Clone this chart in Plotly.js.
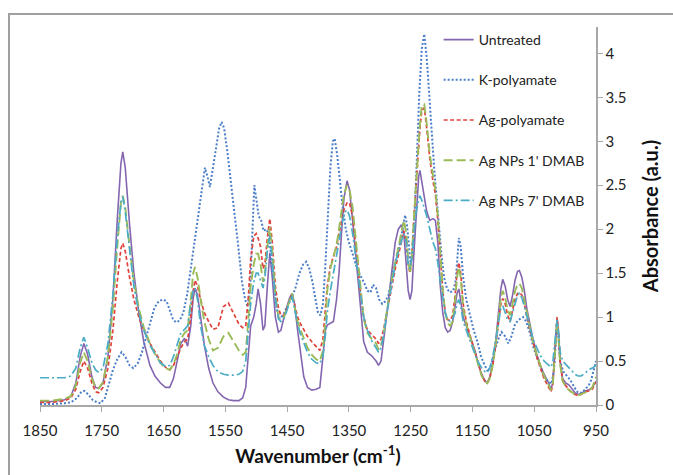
<!DOCTYPE html>
<html>
<head>
<meta charset="utf-8">
<script src="https://cdn.plot.ly/plotly-3.0.1.min.js"></script>
<style>
  html, body { margin:0; padding:0; background:#fff; overflow:hidden; }
  #chart { position:absolute; left:0; top:0; width:673px; height:475px; }
  #frame { position:absolute; left:8px; top:13px; width:720px; height:520px;
           border:2px solid #a0a0a0; pointer-events:none; }
</style>
</head>
<body>
<div id="chart"></div>
<div id="frame"></div>
<script>
// Wavenumber grid (cm-1) shared by four spectra
const wavenumber = [
  1850,1830,1810,1800,1792,1785,1779,1773,1766,1760,
  1755,1748,1740,1732,1725,1719,1716,1712,1705,1698,
  1690,1682,1672,1664,1655,1647,1640,1634,1628,1622,
  1616,1611,1606,1602,1599,1595,1590,1584,1577,1570,
  1562,1553,1545,1537,1528,1522,1517,1513,1509,1504,
  1500,1497,1493,1489,1486,1482,1478,1474,1469,1464,
  1460,1455,1450,1446,1442,1438,1433,1428,1423,1417,
  1410,1403,1397,1392,1388,1385,1380,1375,1370,1366,
  1362,1358,1353,1349,1344,1339,1334,1330,1326,1320,
  1313,1306,1302,1298,1294,1290,1285,1280,1275,1270,
  1265,1261,1257,1254,1251,1248,1245,1241,1237,1235,
  1232,1228,1224,1219,1214,1210,1206,1202,1198,1194,
  1190,1186,1182,1178,1175,1172,1169,1165,1160,1155,
  1150,1145,1140,1135,1130,1126,1122,1117,1112,1108,
  1104,1101,1097,1093,1089,1085,1081,1077,1074,1070,
  1066,1062,1057,1052,1046,1040,1034,1028,1023,1020,
  1017,1015,1013,1011,1008,1004,999,994,989,984,
  979,974,968,962,956,950
];

const untreated = [
  0.04,0.04,0.06,0.10,0.25,0.55,0.70,0.58,0.32,0.20,
  0.19,0.25,0.55,1.20,2.10,2.75,2.88,2.70,2.05,1.50,
  1.05,0.72,0.45,0.33,0.25,0.20,0.20,0.30,0.50,0.70,
  0.76,0.67,0.90,1.22,1.33,1.25,1.00,0.68,0.42,0.25,
  0.15,0.09,0.06,0.05,0.05,0.08,0.20,0.55,0.90,1.00,
  1.15,1.32,1.15,0.85,0.90,1.35,1.73,1.45,1.00,0.83,
  0.85,1.00,1.12,1.22,1.27,1.15,0.85,0.55,0.32,0.20,
  0.17,0.18,0.20,0.55,0.85,0.91,0.93,0.95,1.20,1.50,
  1.95,2.35,2.55,2.45,2.10,1.70,1.30,0.95,0.72,0.60,
  0.56,0.50,0.45,0.50,0.70,0.95,1.25,1.55,1.85,2.00,
  2.05,1.95,1.60,1.30,1.20,1.30,1.70,2.20,2.60,2.67,
  2.55,2.35,2.20,2.10,2.12,2.10,1.85,1.35,1.05,0.88,
  0.83,0.85,0.95,1.12,1.27,1.32,1.20,1.00,0.90,0.80,
  0.72,0.60,0.45,0.35,0.28,0.25,0.32,0.48,0.75,1.05,
  1.32,1.43,1.35,1.20,1.12,1.25,1.42,1.52,1.53,1.45,
  1.30,1.10,0.92,0.75,0.58,0.45,0.35,0.27,0.18,0.25,
  0.55,0.85,0.98,0.85,0.50,0.30,0.25,0.23,0.18,0.14,
  0.12,0.13,0.16,0.17,0.20,0.27
];

const agPolyamate = [
  0.03,0.03,0.05,0.08,0.18,0.38,0.50,0.42,0.25,0.15,
  0.14,0.20,0.42,0.85,1.40,1.78,1.84,1.75,1.45,1.20,
  1.00,0.85,0.70,0.60,0.50,0.43,0.40,0.45,0.55,0.65,
  0.72,0.75,1.00,1.30,1.42,1.35,1.20,1.05,0.95,0.86,
  0.88,1.12,1.16,1.05,0.92,0.88,0.90,1.20,1.65,1.92,
  1.95,1.90,1.80,1.55,1.60,1.90,2.12,1.85,1.35,1.10,
  1.02,1.02,1.10,1.20,1.25,1.15,1.00,0.92,0.85,0.78,
  0.72,0.66,0.62,0.75,1.05,1.35,1.58,1.70,1.80,1.95,
  2.10,2.22,2.30,2.30,2.15,1.85,1.50,1.20,1.00,0.85,
  0.80,0.75,0.70,0.75,0.85,1.00,1.20,1.40,1.55,1.70,
  1.88,1.98,1.85,1.60,1.50,1.70,2.10,2.55,2.95,3.15,
  3.35,3.38,3.15,2.80,2.55,2.40,2.10,1.70,1.30,1.05,
  0.97,0.96,1.02,1.25,1.50,1.62,1.50,1.15,0.95,0.82,
  0.70,0.58,0.45,0.34,0.27,0.25,0.30,0.45,0.70,0.95,
  1.15,1.21,1.15,1.02,0.95,1.08,1.20,1.27,1.28,1.25,
  1.15,1.00,0.85,0.70,0.55,0.42,0.30,0.22,0.15,0.22,
  0.55,0.88,1.00,0.85,0.48,0.28,0.22,0.18,0.14,0.12,
  0.11,0.12,0.15,0.16,0.18,0.26
];

const agNps1 = [
  0.05,0.05,0.07,0.10,0.22,0.48,0.60,0.50,0.30,0.20,
  0.19,0.26,0.55,1.10,1.80,2.30,2.38,2.25,1.80,1.40,
  1.10,0.88,0.70,0.58,0.48,0.42,0.40,0.46,0.58,0.75,
  0.82,0.85,1.20,1.50,1.57,1.45,1.20,0.95,0.75,0.62,
  0.65,0.78,0.82,0.72,0.62,0.57,0.60,0.95,1.35,1.60,
  1.72,1.72,1.60,1.40,1.50,1.80,2.02,1.75,1.25,1.00,
  0.97,1.00,1.10,1.20,1.27,1.12,0.95,0.85,0.75,0.65,
  0.57,0.52,0.50,0.62,0.95,1.30,1.55,1.68,1.82,2.00,
  2.20,2.40,2.50,2.45,2.25,1.90,1.55,1.20,0.98,0.82,
  0.75,0.70,0.63,0.68,0.80,1.00,1.25,1.45,1.62,1.78,
  1.95,2.10,1.95,1.65,1.50,1.70,2.10,2.55,3.00,3.20,
  3.40,3.42,3.20,2.85,2.62,2.45,2.15,1.70,1.30,1.05,
  0.93,0.90,0.95,1.20,1.45,1.57,1.45,1.10,0.92,0.80,
  0.68,0.56,0.44,0.33,0.27,0.25,0.30,0.46,0.72,1.00,
  1.22,1.30,1.22,1.08,1.02,1.15,1.30,1.37,1.38,1.33,
  1.20,1.05,0.88,0.72,0.57,0.44,0.33,0.25,0.17,0.23,
  0.52,0.82,0.94,0.80,0.46,0.27,0.21,0.17,0.14,0.12,
  0.11,0.12,0.14,0.16,0.20,0.32
];

const agNps7 = [
  0.31,0.31,0.31,0.33,0.42,0.65,0.77,0.65,0.48,0.40,
  0.37,0.42,0.70,1.25,1.90,2.30,2.37,2.20,1.75,1.35,
  1.05,0.85,0.68,0.58,0.48,0.44,0.45,0.55,0.70,0.82,
  0.86,0.90,1.15,1.30,1.33,1.20,0.90,0.68,0.55,0.45,
  0.38,0.35,0.34,0.34,0.35,0.38,0.50,0.80,1.15,1.40,
  1.50,1.50,1.42,1.33,1.45,1.75,1.92,1.65,1.20,0.98,
  0.95,0.98,1.08,1.18,1.24,1.10,0.92,0.80,0.70,0.60,
  0.52,0.48,0.47,0.55,0.80,1.05,1.30,1.50,1.70,1.90,
  2.05,2.18,2.22,2.15,1.95,1.70,1.45,1.20,1.00,0.85,
  0.73,0.65,0.60,0.65,0.78,0.98,1.20,1.40,1.60,1.75,
  1.85,1.95,1.85,1.60,1.55,1.70,1.95,2.20,2.35,2.38,
  2.33,2.25,2.15,2.00,1.85,1.78,1.62,1.40,1.20,1.05,
  0.97,0.95,0.98,1.05,1.15,1.20,1.12,0.95,0.85,0.75,
  0.65,0.56,0.48,0.42,0.38,0.37,0.42,0.55,0.75,0.95,
  1.10,1.13,1.05,0.97,0.95,1.05,1.18,1.25,1.27,1.22,
  1.12,1.00,0.88,0.75,0.65,0.56,0.50,0.46,0.43,0.48,
  0.72,0.90,0.97,0.85,0.60,0.50,0.46,0.42,0.38,0.35,
  0.33,0.33,0.36,0.40,0.42,0.45
];

// K-polyamate has its own wavenumber grid
const kWavenumber = [
  1850,1830,1810,1800,1790,1783,1778,1772,1765,1758,
  1752,1745,1738,1732,1725,1718,1712,1705,1699,1692,
  1685,1678,1672,1665,1658,1651,1645,1640,1635,1630,
  1624,1618,1612,1605,1598,1592,1587,1583,1579,1575,
  1570,1565,1560,1556,1552,1547,1541,1535,1529,1523,
  1518,1514,1510,1506,1503,1500,1496,1492,1488,1484,
  1480,1476,1472,1467,1462,1456,1450,1444,1437,1430,
  1424,1419,1414,1409,1404,1400,1396,1392,1388,1384,
  1380,1376,1373,1369,1365,1360,1355,1350,1344,1338,
  1332,1326,1320,1315,1311,1306,1301,1296,1291,1286,
  1281,1276,1271,1266,1262,1259,1256,1253,1250,1247,
  1244,1240,1236,1232,1228,1224,1220,1216,1212,1208,
  1204,1200,1196,1191,1186,1181,1177,1174,1172,1169,
  1165,1160,1154,1148,1142,1136,1130,1125,1120,1114,
  1108,1103,1097,1092,1087,1081,1075,1068,1063,1057,
  1051,1046,1040,1034,1028,1022,1018,1015,1013,1011,
  1008,1003,997,991,985,979,973,967,962,958,
  954,950
];
const kPolyamate = [
  0.01,0.01,0.02,0.03,0.08,0.15,0.16,0.12,0.06,0.03,
  0.02,0.08,0.25,0.40,0.52,0.60,0.55,0.45,0.42,0.47,
  0.60,0.78,0.95,1.10,1.18,1.20,1.18,1.08,0.98,0.94,
  0.96,1.05,1.25,1.60,1.95,2.25,2.55,2.70,2.60,2.48,
  2.70,2.92,3.15,3.22,3.15,2.90,2.55,2.20,1.80,1.40,
  1.20,1.12,1.30,2.00,2.50,2.35,2.15,2.10,1.98,2.00,
  1.95,1.70,1.40,1.10,0.98,1.03,1.12,1.20,1.32,1.50,
  1.60,1.63,1.55,1.40,1.20,1.05,1.02,1.15,1.60,2.20,
  2.70,3.00,3.03,2.85,2.55,2.25,2.00,1.85,1.72,1.58,
  1.48,1.40,1.30,1.28,1.37,1.33,1.20,1.15,1.18,1.25,
  1.42,1.60,1.72,1.88,2.05,2.16,2.05,1.85,1.60,1.70,
  2.10,2.80,3.55,4.05,4.22,3.95,3.50,3.05,2.70,2.35,
  2.00,1.70,1.45,1.32,1.28,1.30,1.42,1.70,1.90,1.80,
  1.45,1.20,1.02,0.85,0.72,0.55,0.45,0.38,0.45,0.62,
  0.75,0.83,0.78,0.70,0.78,0.92,0.97,1.00,0.95,0.82,
  0.65,0.55,0.42,0.32,0.27,0.24,0.40,0.80,0.95,0.80,
  0.50,0.38,0.33,0.28,0.20,0.14,0.14,0.18,0.22,0.28,
  0.38,0.50
];

const seriesNames = ["Untreated", "K-polyamate", "Ag-polyamate", "Ag NPs 1' DMAB", "Ag NPs 7' DMAB"];
const xTicks = [1850,1750,1650,1550,1450,1350,1250,1150,1050,950];

const FONT = "Lato, 'Open Sans', sans-serif";
const styles = [
  {color:'#8466b0', dash:'solid',             width:1.6},
  {color:'#4a7ec8', dash:'2px,2px',           width:2.0},
  {color:'#e0413c', dash:'4px,2.5px',         width:1.7},
  {color:'#9bbb59', dash:'9px,4px',           width:1.9},
  {color:'#4bacc6', dash:'9px,3px,2px,3px',   width:1.7}
];
const xs = [wavenumber, kWavenumber, wavenumber, wavenumber, wavenumber];
const ys = [untreated, kPolyamate, agPolyamate, agNps1, agNps7];

const traces = seriesNames.map((n, i) => ({
  type:'scatter', mode:'lines', name:n, legendgroup:'g'+i,
  x: xs[i], y: ys[i],
  line: {color:styles[i].color, dash:styles[i].dash, width:styles[i].width}
}));

const layout = {
  width:673, height:475,
  margin:{l:40, r:77, t:27, b:70},
  paper_bgcolor:'rgba(0,0,0,0)', plot_bgcolor:'rgba(0,0,0,0)',
  font:{family:FONT, size:15, color:'#222'},
  showlegend:true,
  legend:{x:0.717, y:1.008, xanchor:'left', yanchor:'top',
          bgcolor:'rgba(0,0,0,0)', font:{family:FONT, size:14, color:'#222'},
          tracegroupgap:19, itemwidth:30, traceorder:'grouped'},
  xaxis:{
    range:[1850, 950], tickmode:'array', tickvals:xTicks, ticktext:xTicks.map(String),
    showgrid:false, zeroline:false, showline:true, linecolor:'#a8a8a8', linewidth:1.5,
    ticks:'outside', ticklen:5, tickcolor:'#a8a8a8', tickfont:{size:15, color:'#222'},
    ticklabelstandoff:6,
    title:{text:'<b>Wavenumber (cm<sup>-1</sup>)</b>', font:{size:19, color:'#111'}, standoff:12}
  },
  yaxis:{
    side:'right', range:[0, 4.3], dtick:0.5, tick0:0,
    showgrid:false, zeroline:false, showline:true, linecolor:'#a8a8a8', linewidth:1.5,
    ticks:'outside', ticklen:5, tickcolor:'#a8a8a8', tickfont:{size:15, color:'#222'},
    title:{text:'<b>Absorbance (a.u.)</b>', font:{size:20, color:'#111'}, standoff:18}
  }
};

Plotly.newPlot('chart', traces, layout, {displayModeBar:false, staticPlot:true});
</script>
</body>
</html>
